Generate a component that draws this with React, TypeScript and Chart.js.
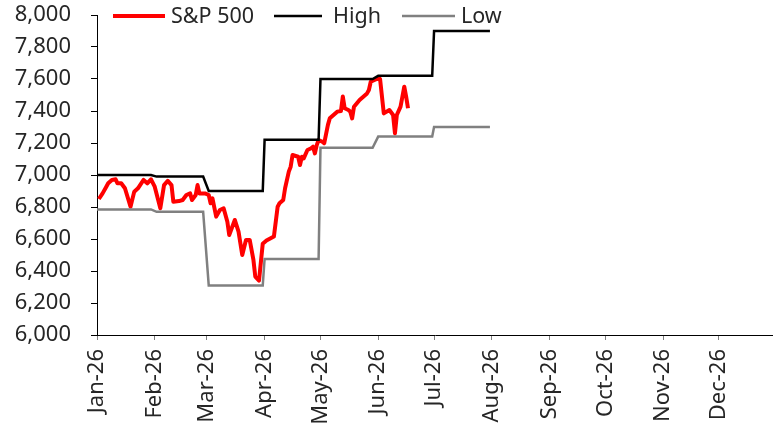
import React, { useEffect, useRef } from "react";
import { Chart, registerables } from "chart.js";

Chart.register(...registerables);

// ---- Data ----
const monthTickDates = [
  "2026-01-01", "2026-02-01", "2026-03-01", "2026-04-01", "2026-05-01", "2026-06-01",
  "2026-07-01", "2026-08-01", "2026-09-01", "2026-10-01", "2026-11-01", "2026-12-01",
];
const monthLabels = [
  "Jan-26", "Feb-26", "Mar-26", "Apr-26", "May-26", "Jun-26",
  "Jul-26", "Aug-26", "Sep-26", "Oct-26", "Nov-26", "Dec-26",
];

// Monthly high / low bands (step lines)
const bandStart = ["2026-01-01", "2026-02-02", "2026-03-02", "2026-04-01", "2026-05-01", "2026-06-01", "2026-07-01"];
const bandEnd = ["2026-01-30", "2026-02-27", "2026-03-31", "2026-04-30", "2026-05-29", "2026-06-30", "2026-07-31"];
const highLevels = [7000, 6990, 6900, 7220, 7600, 7620, 7900];
const lowLevels = [6785, 6770, 6310, 6475, 7170, 7240, 7300];

// S&P 500
const spDates = [
  "2026-01-02", "2026-01-04", "2026-01-06", "2026-01-07", "2026-01-09", "2026-01-11", "2026-01-12",
  "2026-01-14", "2026-01-16", "2026-01-19", "2026-01-21", "2026-01-23", "2026-01-26", "2026-01-28",
  "2026-01-30", "2026-02-01", "2026-02-04", "2026-02-06", "2026-02-08", "2026-02-10", "2026-02-11",
  "2026-02-14", "2026-02-16", "2026-02-18", "2026-02-20", "2026-02-21", "2026-02-23", "2026-02-24",
  "2026-02-25", "2026-02-28", "2026-03-02", "2026-03-03", "2026-03-04", "2026-03-06", "2026-03-08",
  "2026-03-10", "2026-03-12", "2026-03-13", "2026-03-16", "2026-03-18", "2026-03-20", "2026-03-22",
  "2026-03-24", "2026-03-26", "2026-03-27", "2026-03-29", "2026-03-31", "2026-04-02", "2026-04-06",
  "2026-04-08", "2026-04-09", "2026-04-11", "2026-04-12", "2026-04-14", "2026-04-15", "2026-04-16",
  "2026-04-19", "2026-04-20", "2026-04-21", "2026-04-22", "2026-04-24", "2026-04-26", "2026-04-27",
  "2026-04-28", "2026-04-29", "2026-04-30", "2026-05-02", "2026-05-03", "2026-05-05", "2026-05-06",
  "2026-05-08", "2026-05-10", "2026-05-12", "2026-05-13", "2026-05-14", "2026-05-16", "2026-05-17",
  "2026-05-18", "2026-05-19", "2026-05-22", "2026-05-26", "2026-05-27", "2026-05-28", "2026-05-30",
  "2026-06-01", "2026-06-02", "2026-06-04", "2026-06-07", "2026-06-09", "2026-06-10", "2026-06-11",
  "2026-06-13", "2026-06-15", "2026-06-16", "2026-06-17",
];
const spValues = [
  6850, 6885, 6927, 6948, 6969, 6973, 6948,
  6948, 6917, 6802, 6896, 6917, 6969, 6948,
  6973, 6927, 6792, 6937, 6964, 6937, 6833,
  6837, 6844, 6875, 6885, 6844, 6875, 6937,
  6885, 6885, 6875, 6823, 6854, 6740, 6781,
  6792, 6708, 6625, 6719, 6646, 6500, 6594,
  6594, 6469, 6365, 6340, 6570, 6590, 6615,
  6802, 6823, 6844, 6917, 7021, 7052, 7125,
  7114, 7062, 7114, 7104, 7156, 7167, 7177,
  7135, 7187, 7219, 7208, 7198, 7313, 7354,
  7375, 7396, 7400, 7490, 7417, 7406, 7396,
  7354, 7427, 7469, 7510, 7531, 7583, 7594,
  7604, 7600, 7385, 7406, 7375, 7260, 7375,
  7427, 7552, 7490, 7417,
];

const yMin = 6000;
const yMax = 8000;
const yStep = 200;

const FONT = "'Noto Sans', 'DejaVu Sans', sans-serif";
const TICK_SIZE = 22;
const LEGEND_SIZE = 21.5;
const TEXT_COLOR = "#262626";

const dayOf = (iso: string) => {
  const [y, m, d] = iso.split("-").map(Number);
  return Math.round((Date.UTC(y, m - 1, d) - Date.UTC(2026, 0, 1)) / 86400000);
};

const legendItems = [
  { text: "S&P 500", color: "#FF0000", width: 4, x0: 113, x1: 165, tx: 171 },
  { text: "High", color: "#000000", width: 2.5, x0: 274, x1: 322, tx: 333 },
  { text: "Low", color: "#808080", width: 2.5, x0: 402, x1: 455, tx: 461 },
];

const legendPlugin = {
  id: "customLegend",
  afterDraw(chart: any) {
    const ctx = chart.ctx;
    ctx.save();
    const y = 16;
    ctx.font = `${LEGEND_SIZE}px ${FONT}`;
    ctx.textBaseline = "middle";
    ctx.textAlign = "left";
    for (const it of legendItems) {
      ctx.strokeStyle = it.color;
      ctx.lineWidth = it.width;
      ctx.lineCap = "butt";
      ctx.beginPath();
      ctx.moveTo(it.x0, y);
      ctx.lineTo(it.x1, y);
      ctx.stroke();
      ctx.fillStyle = TEXT_COLOR;
      ctx.fillText(it.text, it.tx, y + 1);
    }
    ctx.restore();
  },
};

export default function App() {
  const ref = useRef<HTMLCanvasElement | null>(null);

  useEffect(() => {
    if (!ref.current) return;
    const monthDays = monthTickDates.map(dayOf);

    const stepPoints = (levels: number[]) => {
      const pts: { x: number; y: number }[] = [];
      levels.forEach((lv, i) => {
        pts.push({ x: dayOf(bandStart[i]), y: lv });
        pts.push({ x: dayOf(bandEnd[i]), y: lv });
      });
      return pts;
    };

    const spPoints = spDates.map((d, i) => ({ x: dayOf(d), y: spValues[i] }));

    const chart = new Chart(ref.current, {
      type: "line",
      data: {
        datasets: [
          {
            label: "Low",
            data: stepPoints(lowLevels),
            borderColor: "#808080",
            borderWidth: 2.5,
            pointRadius: 0,
            tension: 0,
          },
          {
            label: "High",
            data: stepPoints(highLevels),
            borderColor: "#000000",
            borderWidth: 2.5,
            pointRadius: 0,
            tension: 0,
          },
          {
            label: "S&P 500",
            data: spPoints,
            borderColor: "#FF0000",
            borderWidth: 4,
            borderJoinStyle: "round",
            pointRadius: 0,
            tension: 0,
          },
        ],
      },
      options: {
        animation: false,
        responsive: false,
        maintainAspectRatio: false,
        layout: { padding: 0 },
        plugins: {
          legend: { display: false },
          tooltip: { enabled: false },
        },
        scales: {
          x: {
            type: "linear",
            min: 0,
            max: 363,
            afterBuildTicks: (scale: any) => {
              scale.ticks = monthDays.map((v) => ({ value: v }));
            },
            afterFit: (scale: any) => {
              scale.height = 92;
              scale.paddingLeft = 0;
              scale.paddingRight = 0;
              scale.paddingTop = 0;
              scale.paddingBottom = 0;
            },
            border: { color: "#000000", width: 1 },
            grid: {
              drawOnChartArea: false,
              drawTicks: true,
              tickLength: 5,
              color: "#808080",
            },
            ticks: {
              autoSkip: false,
              minRotation: 90,
              maxRotation: 90,
              padding: 9,
              color: TEXT_COLOR,
              font: { family: FONT, size: TICK_SIZE },
              callback: (_v: any, i: number) => monthLabels[i],
            },
          },
          y: {
            min: yMin,
            max: yMax,
            afterFit: (scale: any) => {
              scale.width = 97;
              scale.paddingTop = 15;
              scale.paddingBottom = 0;
              scale.paddingLeft = 0;
              scale.paddingRight = 0;
            },
            border: { color: "#000000", width: 1 },
            grid: {
              drawOnChartArea: false,
              drawTicks: true,
              tickLength: 6,
              color: "#000000",
            },
            ticks: {
              stepSize: yStep,
              padding: 20,
              color: TEXT_COLOR,
              font: { family: FONT, size: TICK_SIZE },
              callback: (v: any) => Number(v).toLocaleString("en-US"),
            },
          },
        },
      },
      plugins: [legendPlugin],
    });
    return () => chart.destroy();
  }, []);

  return (
    <div style={{ position: "absolute", left: 0, top: 0, width: 773, height: 427, background: "#fff" }}>
      <canvas ref={ref} width={773} height={427} style={{ display: "block" }} />
    </div>
  );
}
